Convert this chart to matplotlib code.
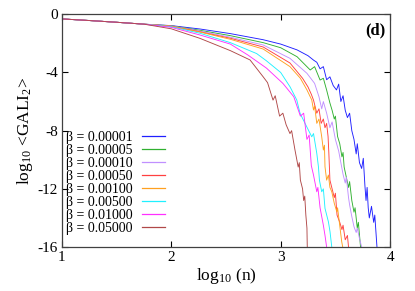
import matplotlib
matplotlib.use("Agg")
import matplotlib.pyplot as plt

plt.rcParams['font.family'] = ['Liberation Serif', 'DejaVu Serif']
plt.rcParams['mathtext.fontset'] = 'custom'
plt.rcParams['mathtext.rm'] = 'Liberation Serif'
plt.rcParams['mathtext.it'] = 'Liberation Serif:italic'

labels = ["β = 0.00001", "β = 0.00005", "β = 0.00010", "β = 0.00050",
          "β = 0.00100", "β = 0.00500", "β = 0.01000", "β = 0.05000"]
colors = ["#2020ff", "#30b030", "#c090ff", "#ff4040",
          "#ffa020", "#20f0ff", "#ff30ff", "#b04848"]

head_x = [1.0, 1.25, 1.5, 1.75]
head_y = [-0.32, -0.43, -0.55, -0.68]

x_b1 = head_x + [2.0, 2.26, 2.54, 2.84, 3.0, 3.15, 3.25, 3.30, 3.33, 3.36, 3.39, 3.42, 3.45, 3.48, 3.51, 3.53,
                 3.55, 3.57, 3.59, 3.61, 3.63, 3.65, 3.67, 3.69, 3.70, 3.72, 3.74, 3.755, 3.77, 3.78,
                 3.79, 3.80, 3.81, 3.83, 3.85, 3.86, 3.88]
y_b1 = head_y + [-0.78, -1.01, -1.33, -1.75, -2.05, -2.45, -2.85, -3.15, -3.30, -3.75, -3.6, -4.5, -4.3, -4.9, -5.2, -4.8,
                 -6.0, -5.6, -6.6, -7.1, -6.8, -8.0, -8.6, -9.6, -8.9, -10.2, -10.6, -9.9, -11.8, -12.8,
                 -11.9, -13.3, -14.0, -13.2, -14.3, -13.8, -16.0]

x_b2 = head_x + [2.0, 2.26, 2.54, 2.84, 3.0, 3.15, 3.27, 3.31, 3.36, 3.39, 3.42, 3.45, 3.47, 3.49, 3.50, 3.52,
                 3.54, 3.56, 3.57, 3.58, 3.60, 3.62, 3.63, 3.65, 3.67, 3.68, 3.70, 3.71, 3.73]
y_b2 = head_y + [-0.79, -1.10, -1.47, -1.95, -2.30, -2.92, -3.83, -3.60, -4.52, -4.40, -5.21, -6.10, -6.60, -7.20, -7.00, -8.40,
                 -8.90, -9.80, -9.50, -10.50, -11.20, -11.90, -11.50, -12.80, -13.60, -13.30, -14.70, -14.30, -16.0]

x_b3 = head_x + [2.0, 2.26, 2.54, 2.84, 3.085, 3.24, 3.31, 3.35, 3.375, 3.39, 3.42, 3.45, 3.47, 3.50, 3.53,
                 3.55, 3.57, 3.59, 3.60, 3.62, 3.63, 3.65, 3.67, 3.69, 3.70, 3.72, 3.74]
y_b3 = head_y + [-0.80, -1.15, -1.58, -2.11, -3.03, -4.06, -4.75, -5.67, -6.50, -6.00, -6.80, -7.80, -7.40, -8.60, -9.40,
                 -10.20, -11.00, -11.60, -11.20, -12.60, -13.10, -13.90, -14.60, -15.00, -14.70, -15.40, -16.0]

x_b4 = head_x + [2.0, 2.26, 2.54, 2.84, 3.085, 3.20, 3.25, 3.28, 3.30, 3.33, 3.35, 3.37, 3.39, 3.405, 3.42, 3.433,
                 3.44, 3.45, 3.47, 3.49, 3.50, 3.515, 3.54, 3.56, 3.57, 3.59, 3.61, 3.62]
y_b4 = head_y + [-0.82, -1.20, -1.65, -2.25, -3.35, -4.40, -5.00, -5.50, -5.90, -6.80, -6.50, -7.50, -7.20, -7.80, -7.50, -8.40,
                 -9.50, -11.40, -12.00, -12.60, -12.30, -13.80, -14.30, -14.80, -14.50, -15.50, -15.20, -16.0]

x_b5 = head_x + [2.0, 2.26, 2.54, 2.84, 3.085, 3.18, 3.24, 3.284, 3.30, 3.31, 3.33, 3.35, 3.375, 3.39, 3.40, 3.405,
                 3.42, 3.436, 3.45, 3.467, 3.49, 3.513, 3.52, 3.543, 3.558, 3.567]
y_b5 = head_y + [-0.83, -1.22, -1.72, -2.39, -3.60, -4.40, -5.20, -5.89, -6.58, -6.30, -7.50, -7.20, -8.42, -9.33, -9.00, -10.48,
                 -11.40, -11.05, -11.90, -12.20, -13.00, -13.58, -13.30, -14.72, -15.64, -16.0]

x_b6 = head_x + [2.0, 2.26, 2.54, 2.78, 2.87, 3.0, 3.085, 3.147, 3.177, 3.238, 3.284, 3.30, 3.33, 3.345, 3.354,
                 3.375, 3.39, 3.405, 3.436, 3.451, 3.467]
y_b6 = head_y + [-0.86, -1.30, -1.95, -2.70, -3.20, -4.00, -4.98, -5.89, -6.81, -7.73, -8.42, -8.20, -9.56, -10.48, -11.40,
                 -12.20, -12.00, -13.34, -14.26, -14.95, -16.0]

x_b7 = head_x + [2.0, 2.26, 2.54, 2.70, 2.87, 3.02, 3.12, 3.18, 3.21, 3.24, 3.26, 3.28, 3.30, 3.33, 3.34, 3.36,
                 3.39, 3.405, 3.42]
y_b7 = head_y + [-0.90, -1.42, -2.05, -2.80, -3.70, -4.75, -5.67, -7.00, -6.80, -8.60, -8.30, -10.40, -11.05, -12.20, -11.90,
                 -13.30, -14.50, -15.20, -16.0]

x_b8 = head_x + [2.0, 2.26, 2.54, 2.72, 2.84, 2.88, 2.93, 2.95, 2.99, 3.02, 3.05, 3.085, 3.10, 3.13, 3.16, 3.17,
                 3.18, 3.20, 3.21, 3.22, 3.23, 3.24, 3.243]
y_b8 = head_y + [-1.00, -1.65, -2.50, -3.14, -4.30, -4.70, -5.90, -5.60, -7.00, -6.80, -7.60, -8.20, -8.00, -9.30, -10.50, -10.20,
                 -11.40, -12.00, -12.80, -12.50, -13.80, -14.70, -16.0]

xs = [x_b1, x_b2, x_b3, x_b4, x_b5, x_b6, x_b7, x_b8]
ys = [y_b1, y_b2, y_b3, y_b4, y_b5, y_b6, y_b7, y_b8]

xticks = [1, 2, 3, 4]
yticks = [0, -4, -8, -12, -16]

fig = plt.figure(figsize=(4.15, 2.91), dpi=100)
ax = fig.add_axes([0.149, 0.151, 0.791, 0.800])
for x, y, c, lab in zip(xs, ys, colors, labels):
    ax.plot(x, y, color=c, lw=0.65, label=lab)

ax.set_xlim(1, 4)
ax.set_ylim(-16, 0)
ax.set_xticks(xticks)
ax.set_yticks(yticks)
ax.set_yticklabels([str(t) for t in yticks])
ax.tick_params(direction='in', length=4, width=0.8, top=True, right=True,
               labelsize=11, colors='black', pad=3)
for s in ax.spines.values():
    s.set_color('#404040')
    s.set_linewidth(0.9)

ax.set_xlabel(r'log$_{10}$ (n)', fontsize=12.5, labelpad=1)
ax.set_ylabel(r'log$_{10}$ <GALI$_2$>', fontsize=12.5, labelpad=2)
ax.text(0.985, 0.965, '(d)', transform=ax.transAxes, ha='right', va='top',
        fontsize=12, fontweight='bold')

leg = ax.legend(loc='lower left', bbox_to_anchor=(0.0, 0.035), markerfirst=False,
                frameon=False, fontsize=10,
                handlelength=1.6, handletextpad=0.7, labelspacing=0.0,
                borderaxespad=0.2, borderpad=0.1)
for h in leg.get_lines():
    h.set_linewidth(0.9)

fig.savefig('out.png', dpi=100)
